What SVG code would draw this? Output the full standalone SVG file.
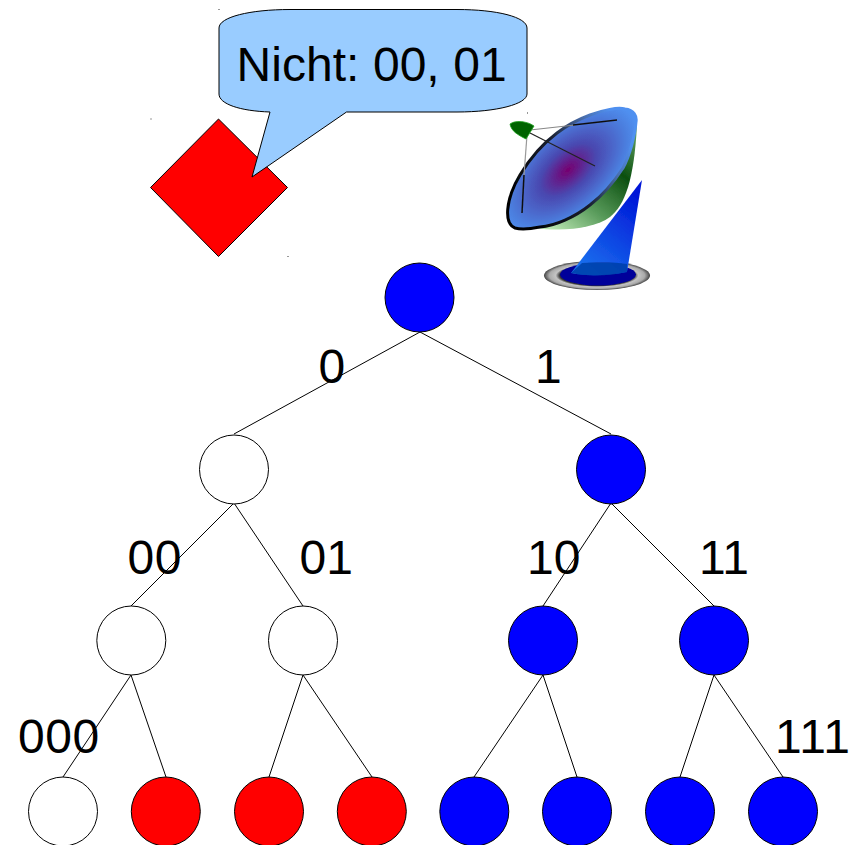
<svg xmlns="http://www.w3.org/2000/svg" width="858" height="845" viewBox="0 0 858 845">
<style>
.n{stroke:#000;stroke-width:1}
.b{fill:#00f}.w{fill:#fff}.r{fill:#f00}
.e{stroke:#000;stroke-width:1;fill:none}
text{font-family:"Liberation Sans",Arial,sans-serif;font-size:48px;fill:#000}
.s{fill:#333}
</style>
<defs>
<radialGradient id="dishFace" gradientUnits="userSpaceOnUse" cx="0" cy="0" r="1" gradientTransform="translate(568 170) rotate(-42) scale(84 46)">
<stop offset="0" stop-color="#760070"/><stop offset="0.4" stop-color="#4a48b0"/><stop offset="0.85" stop-color="#4c80e0"/><stop offset="1" stop-color="#5090f0"/>
</radialGradient>
<linearGradient id="rim" gradientUnits="userSpaceOnUse" x1="515" y1="205" x2="628" y2="140">
<stop offset="0" stop-color="#000"/><stop offset="0.5" stop-color="#1a2030"/><stop offset="0.8" stop-color="#4a70b0"/><stop offset="1" stop-color="#5090f0"/>
</linearGradient>
<linearGradient id="bowl" gradientUnits="userSpaceOnUse" x1="556" y1="232" x2="638" y2="128">
<stop offset="0" stop-color="#b8e4b0"/><stop offset="0.3" stop-color="#5a9c5c"/><stop offset="0.65" stop-color="#0b4f0f"/><stop offset="1" stop-color="#6aa86a"/>
</linearGradient>
<linearGradient id="stand" gradientUnits="userSpaceOnUse" x1="585" y1="270" x2="640" y2="200">
<stop offset="0" stop-color="#1a70ee"/><stop offset="1" stop-color="#0018d8"/>
</linearGradient>
<radialGradient id="ring" cx="0.5" cy="0.5" r="0.5">
<stop offset="0.7" stop-color="#333"/><stop offset="0.78" stop-color="#c4c4c4"/><stop offset="0.9" stop-color="#aaa"/><stop offset="1" stop-color="#444"/>
</radialGradient>
<filter id="soft" x="-10%" y="-10%" width="120%" height="120%"><feGaussianBlur stdDeviation="0.5"/></filter>
</defs>
<g id="connectors">
<line class="e" x1="420" y1="332" x2="234" y2="434"/>
<line class="e" x1="420" y1="332" x2="611" y2="434"/>
<line class="e" x1="234" y1="503" x2="131" y2="606"/>
<line class="e" x1="234" y1="503" x2="303" y2="606"/>
<line class="e" x1="611" y1="503" x2="543" y2="606"/>
<line class="e" x1="611" y1="503" x2="714" y2="606"/>
<line class="e" x1="131" y1="675" x2="63" y2="777"/>
<line class="e" x1="131" y1="675" x2="166" y2="777"/>
<line class="e" x1="303" y1="675" x2="269" y2="777"/>
<line class="e" x1="303" y1="675" x2="372" y2="777"/>
<line class="e" x1="543" y1="675" x2="474" y2="777"/>
<line class="e" x1="543" y1="675" x2="577" y2="777"/>
<line class="e" x1="714" y1="675" x2="680" y2="777"/>
<line class="e" x1="714" y1="675" x2="783" y2="777"/>
</g>
<g id="node-root"><circle class="n b" cx="419.500" cy="297.500" r="34.500"/></g>
<g id="node-0"><circle class="n w" cx="234" cy="469.500" r="34.500"/></g>
<g id="node-1"><circle class="n b" cx="611" cy="469.500" r="34.500"/></g>
<g id="node-00"><circle class="n w" cx="131.300" cy="640.500" r="34.500"/></g>
<g id="node-01"><circle class="n w" cx="303" cy="640.500" r="34.500"/></g>
<g id="node-10"><circle class="n b" cx="543" cy="640.500" r="34.500"/></g>
<g id="node-11"><circle class="n b" cx="714" cy="640.500" r="34.500"/></g>
<g id="node-000"><circle class="n w" cx="63" cy="811.500" r="34.500"/></g>
<g id="node-001"><circle class="n r" cx="165.800" cy="811.500" r="34.500"/></g>
<g id="node-010"><circle class="n r" cx="269" cy="811.500" r="34.500"/></g>
<g id="node-011"><circle class="n r" cx="371.800" cy="811.500" r="34.500"/></g>
<g id="node-100"><circle class="n b" cx="474.300" cy="811.500" r="34.500"/></g>
<g id="node-101"><circle class="n b" cx="577" cy="811.500" r="34.500"/></g>
<g id="node-110"><circle class="n b" cx="680" cy="811.500" r="34.500"/></g>
<g id="node-111"><circle class="n b" cx="783" cy="811.500" r="34.500"/></g>
<g id="labels">
<text x="318.500" y="383">0</text>
<text x="535" y="383">1</text>
<text x="127.500" y="574" letter-spacing="0.500">00</text>
<text x="299.500" y="574">01</text>
<text x="527" y="574">10</text>
<text x="699" y="574">11</text>
<text x="18" y="753" letter-spacing="0.500">000</text>
<text x="775" y="753" letter-spacing="1">111</text>
</g>
<g id="attacker">
<polygon class="n r" points="218.500,119 287.500,187.500 218.500,256.500 150.500,187.500"/>
</g>
<g id="callout">
<path d="M219 28C219 17 250 9.500 290 9.500H457C497 9.500 527 17 527 28V94C527 104 497 112 457 112H346.500L252 177L270 112C240 111 219 104 219 94Z" fill="#99ccff" stroke="#000" stroke-width="1"/>
<text x="236.500" y="81" letter-spacing="0.050">Nicht: 00, 01</text>
</g>
<g id="specks">
<rect class="s" x="150.500" y="118.500" width="1" height="1"/>
<rect class="s" x="218.500" y="9" width="1" height="1"/>
<rect class="s" x="287.500" y="256" width="1" height="1"/>
<rect class="s" x="527" y="112.500" width="1" height="1"/>
</g>
<g id="satellite-dish" filter="url(#soft)">
<ellipse cx="597" cy="275.500" rx="53" ry="14.500" fill="url(#ring)"/>
<ellipse cx="598" cy="274.500" rx="38" ry="11" fill="#00009a"/>
<path d="M535 228C565 232 595 228 610 217C625 205 634 180 637 125L560 180Z" fill="url(#bowl)"/>
<path d="M642 180L627 272C605 276 585 276 571 273Z" fill="url(#stand)"/>
<path d="M571 273L582 263C597 262 615 262 627 264L627 272C605 277 585 276 571 273Z" fill="#0040a8" opacity="0.85"/>
<path d="M515 228C504 224 505 200 520 175C532 155 545 142 557 133C570 123 582 118 590 115C603 110 618 107 625 109C634 110 637 116 636 122C635 135 630 155 623 168C612 185 603 195 590 205C575 217 555 226 540 227C530 229 522 230 515 228Z" fill="url(#dishFace)" stroke="url(#rim)" stroke-width="3"/>
<line x1="530" y1="130" x2="575" y2="125" stroke="#888" stroke-width="1.200"/>
<line x1="573" y1="125" x2="617" y2="120" stroke="#111" stroke-width="1.500"/>
<line x1="530" y1="133" x2="595" y2="166" stroke="#222" stroke-width="1.200"/>
<line x1="527" y1="135" x2="524" y2="175" stroke="#999" stroke-width="1.200"/>
<line x1="524" y1="175" x2="522" y2="213" stroke="#111" stroke-width="1.500"/>
<path d="M510 124C515 120 527 121 534 126L526 139C518 135 511 131 510 124Z" fill="#006400" stroke="#1aa01a" stroke-width="0.800"/>
</g>
</svg>
